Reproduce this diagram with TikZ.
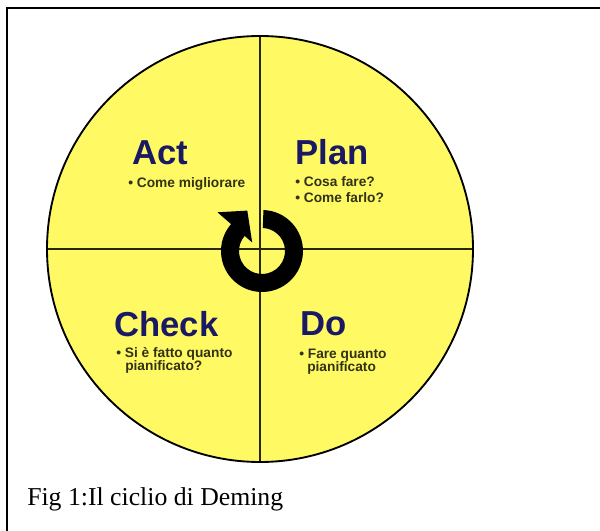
\documentclass[tikz,border=0pt]{standalone}
\usepackage{fontspec}
\setmainfont{Liberation Serif}
\newfontfamily\arialf{Liberation Sans}
\usetikzlibrary{calc}
\definecolor{wheelyellow}{RGB}{255,250,100}
\definecolor{titlenavy}{RGB}{25,25,100}
\definecolor{bodyolive}{RGB}{50,50,20}
\definecolor{crossline}{RGB}{40,40,10}
\tikzset{
  title/.style={anchor=base west, inner sep=0pt, text=titlenavy, font=\arialf\bfseries\fontsize{26}{30}\selectfont},
  bullet/.style={anchor=base west, inner sep=0pt, text=bodyolive, font=\arialf\bfseries\fontsize{10.3}{12}\selectfont},
  caption/.style={anchor=base west, inner sep=0pt, text=black, font=\fontsize{19.3}{22}\selectfont},
}
\begin{document}
\begin{tikzpicture}[x=0.75pt,y=-0.75pt]
\useasboundingbox (0,0) rectangle (600,531);
\fill[white] (0,0) rectangle (600,531);
% frame
\draw[line width=1.5pt] (7,531) -- (7,8) -- (600,8);
% wheel
\coordinate (O) at (260,249);
\fill[wheelyellow] (O) circle[radius=213];
\draw[crossline, line width=1.3pt] (260,36) -- (260,462);
\draw[crossline, line width=1.3pt] (47,249) -- (473,249);
\draw[black, line width=1.4pt] (O) circle[radius=213];
% circular arrow
\coordinate (C) at (262,251);
\fill[black] ($(C)+(-88:41)$) arc[start angle=-88, end angle=221, radius=41]
  -- ($(C)+(221:59)$) -- ($(C)+(250:43)$) -- ($(C)+(221:13)$) -- ($(C)+(221:23)$)
  arc[start angle=221, end angle=-88, radius=23] -- cycle;
% titles
\node[title] (act) at (132,165) {Act};
\node[title] (plan) at (295,165) {Plan};
\node[title] (check) at (114,336) {Check};
\node[title] (do) at (300,335) {Do};
% bullets
\node[bullet] (actb) at (128,188) {\textbullet\ Come migliorare};
\node[bullet] (planb1) at (295,187) {\textbullet\ Cosa fare?};
\node[bullet] (planb2) at (295,203) {\textbullet\ Come farlo?};
\node[bullet] (checkb1) at (116,357) {\textbullet\ Si è fatto quanto};
\node[bullet] (checkb2) at (125,370) {pianificato?};
\node[bullet] (dob1) at (299,358) {\textbullet\ Fare quanto};
\node[bullet] (dob2) at (307,371) {pianificato};
% caption
\node[caption] (cap) at (27,505) {Fig 1:Il ciclio di Deming};
\end{tikzpicture}
\end{document}
